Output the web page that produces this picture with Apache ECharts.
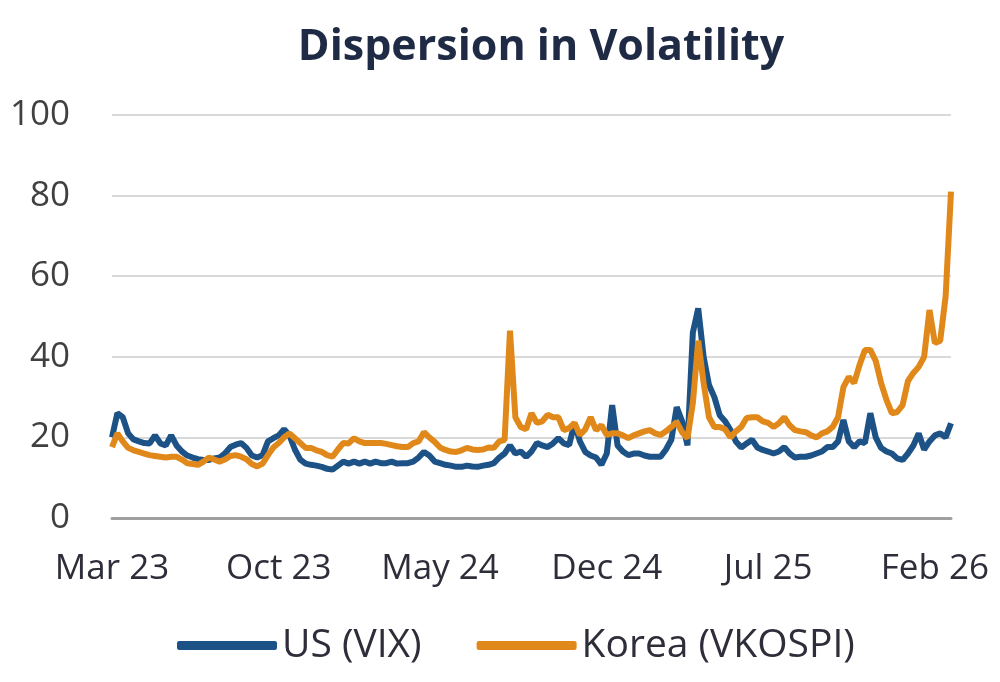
<!DOCTYPE html>
<html>
<head>
<meta charset="utf-8">
<script src="https://cdn.jsdelivr.net/npm/echarts@6/dist/echarts.min.js"></script>
<style>
  html, body { margin: 0; padding: 0; background: #fff; }
  #container { width: 1000px; height: 682px; }
</style>
</head>
<body>
<div id="container"></div>
<script>
// weekly readings, first week = 1 Mar 2023
var startDate = '2023-03-01';
var tickMonths = ['2023-03', '2023-10', '2024-05', '2024-12', '2025-07', '2026-02'];
var monthNames = ['Jan','Feb','Mar','Apr','May','Jun','Jul','Aug','Sep','Oct','Nov','Dec'];

var usVix = [
    20, 26, 25, 21, 19.5, 19, 18.6, 18.5, 20.5, 18.5,
    18, 20.5, 18, 16.5, 15.5, 15, 14.6, 14.4, 14.4, 14.8,
    15, 16, 17.6, 18.2, 18.6, 17.4, 15.5, 15, 15.6, 19,
    19.8, 20.5, 22, 20.5, 17, 14.5, 13.5, 13.2, 13, 12.7,
    12.2, 12, 13, 14, 13.5, 14, 13.5, 14, 13.5, 14,
    13.6, 13.6, 14, 13.5, 13.6, 13.6, 14, 15, 16.4, 15.5,
    14, 13.6, 13.2, 13, 12.7, 12.7, 13, 12.8, 12.7, 13,
    13.2, 13.6, 15, 16, 18, 16, 16.5, 15.2, 16.5, 18.6,
    18, 17.6, 18.5, 19.8, 18.5, 18.1, 23.5, 19, 16.4, 15.5,
    15, 13.2, 16, 28, 18, 16.5, 15.6, 16, 16, 15.5,
    15.2, 15.2, 15.2, 17, 19.4, 27.5, 24, 18, 46, 52,
    40, 33, 30, 25.5, 24, 21.8, 19, 17.5, 18.5, 19.4,
    17.5, 16.9, 16.5, 16, 16.5, 17.6, 16, 15, 15.2, 15.2,
    15.5, 16, 16.5, 17.6, 17.6, 19, 24.3, 19, 17.6, 19,
    18.6, 26, 20, 17.4, 16.5, 16, 14.8, 14.4, 16, 18,
    21, 17, 19, 20.5, 21, 20, 23.5
];

var koreaVkospi = [
    17.6, 21, 19, 17.4, 16.8, 16.4, 16, 15.6, 15.4, 15.2,
    15, 15.2, 15.2, 14.5, 13.6, 13.4, 13.2, 14, 15, 14.5,
    14, 14.5, 15.4, 15.6, 15.2, 14.6, 13.4, 12.8, 13.5, 15.6,
    17.5, 18.6, 20, 21, 19.8, 18.6, 17.4, 17.4, 16.8, 16.4,
    15.6, 15.2, 17, 18.6, 18.5, 19.8, 19, 18.6, 18.6, 18.6,
    18.6, 18.4, 18.1, 17.8, 17.6, 17.6, 18.6, 19, 21.3, 20,
    18.9, 17.5, 16.9, 16.5, 16.4, 16.8, 17.4, 17, 16.9, 17,
    17.5, 17.4, 19, 19.4, 46.5, 25, 22.6, 22, 26, 23.6,
    24, 25.6, 25, 25, 21.8, 22.3, 23.6, 20.6, 22, 25,
    21.8, 23, 20.6, 21, 21, 20.5, 19.8, 20.5, 21, 21.5,
    21.8, 21, 20.6, 21.5, 22.6, 23.8, 21.3, 19.8, 28.5, 44,
    33.5, 25, 22.6, 22.6, 22, 20, 21.5, 22.6, 24.8, 25,
    25, 24, 23.6, 22.6, 23.5, 25, 23, 21.8, 21.5, 21.3,
    20.5, 20, 21, 21.5, 22.6, 25, 32.5, 35, 33.5, 38,
    41.7, 41.7, 39, 33.5, 29.3, 26, 26.3, 28, 34, 36,
    37.5, 40, 51.6, 43.4, 44, 55, 81
];

// week dates for the category axis
var weeks = [];
var t0 = Date.parse(startDate + 'T00:00:00Z');
for (var i = 0; i < usVix.length; i++) {
    weeks.push(new Date(t0 + i * 7 * 86400000).toISOString().slice(0, 10));
}
// label each tick month at its first week
var labelIdx = {};
for (var m of tickMonths) {
    for (var i = 0; i < weeks.length; i++) {
        if (weeks[i].slice(0, 7) == m) { labelIdx[i] = true; break; }
    }
}

var myChart = echarts.init(document.getElementById('container'));
myChart.setOption({
    animation: false,
    title: {
        text: 'Dispersion in Volatility',
        left: 536,
        textAlign: 'center',
        top: 21,
        textStyle: {
            fontFamily: 'Open Sans',
            fontWeight: 'bold',
            fontSize: 43,
            color: '#1f2a44'
        }
    },
    legend: {
        bottom: 12,
        left: 172,
        itemWidth: 100,
        itemHeight: 9,
        itemGap: 55,
        icon: 'roundRect',
        textStyle: { fontFamily: 'Open Sans', fontSize: 39, color: '#2e2e3a' },
        data: ['US (VIX)', 'Korea (VKOSPI)']
    },
    grid: { left: 112, right: 49, top: 115, bottom: 164 },
    xAxis: {
        type: 'category',
        data: weeks,
        boundaryGap: false,
        axisLine: { lineStyle: { color: '#a0a0a0', width: 3 } },
        axisTick: { show: false },
        axisLabel: {
            interval: function (idx) { return !!labelIdx[idx]; },
            formatter: function (v) {
                return monthNames[parseInt(v.slice(5, 7)) - 1] + ' ' + v.slice(2, 4);
            },
            margin: 34,
            fontFamily: 'Open Sans',
            fontSize: 35,
            color: '#2e2e3a'
        }
    },
    yAxis: {
        type: 'value',
        min: 0,
        max: 100,
        interval: 20,
        splitLine: { lineStyle: { color: '#d9d9d9', width: 2 } },
        axisLabel: { margin: 42, fontFamily: 'Open Sans', fontSize: 35, color: '#404040' }
    },
    series: [
        {
            name: 'US (VIX)',
            type: 'line',
            data: usVix,
            showSymbol: false,
            lineStyle: { width: 6, color: '#1d5286' },
            itemStyle: { color: '#1d5286' }
        },
        {
            name: 'Korea (VKOSPI)',
            type: 'line',
            data: koreaVkospi,
            showSymbol: false,
            lineStyle: { width: 6, color: '#e0891a' },
            itemStyle: { color: '#e0891a' }
        }
    ]
});
</script>
</body>
</html>
